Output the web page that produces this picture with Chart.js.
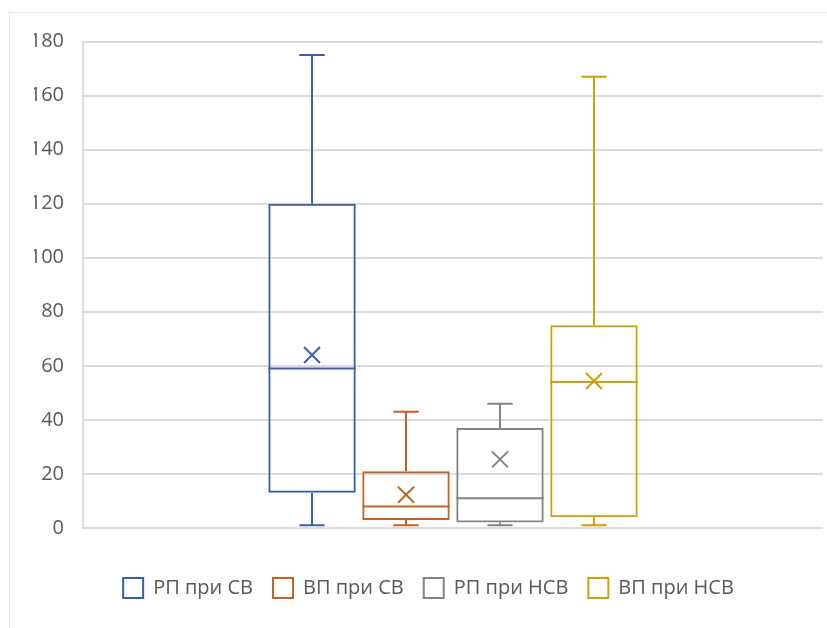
<!DOCTYPE html>
<html>
<head>
<meta charset="utf-8">
<script src="https://cdn.jsdelivr.net/npm/chart.js@4.4.1/dist/chart.umd.min.js"></script>
<style>
  html, body { margin: 0; padding: 0; background: #ffffff; overflow: hidden; }
  #frame { position: absolute; left: 9px; top: 12px; width: 900px; height: 700px; border: 1px solid #e6e6e6; }
  #chart { position: absolute; left: 0; top: 0; }
</style>
</head>
<body>
<div id="frame"></div>
<canvas id="chart" width="827" height="628"></canvas>
<script>
// Five-number summaries and means for each group
const seriesNames = ['РП при СВ', 'ВП при СВ', 'РП при НСВ', 'ВП при НСВ'];
const whiskerMin = [1, 1, 1, 1];
const quartile1  = [13, 3, 2, 4];
const medians    = [59, 8, 11, 54];
const quartile3  = [120, 21, 37, 75];
const whiskerMax = [175, 43, 46, 167];
const means      = [64, 12.3, 25.4, 54.4];
const yTickValues = [0, 20, 40, 60, 80, 100, 120, 140, 160, 180];

const colors = ['#3760a8', '#c5621e', '#838383', '#d0a008'];
const textColor = '#595959';
const gridColor = '#dcdcdc';
const fontFamily = "'Open Sans', 'Noto Sans', sans-serif";

// Whiskers, caps, median lines and mean crosses drawn on top of the boxes
const boxWhiskers = {
  id: 'boxWhiskers',
  afterDatasetsDraw(chart) {
    const ctx = chart.ctx;
    const yScale = chart.scales.y;
    chart.data.datasets.forEach((ds, i) => {
      const meta = chart.getDatasetMeta(i);
      if (meta.hidden || !meta.data[0]) return;
      const { x, width } = meta.data[0].getProps(['x', 'width'], true);
      const half = width / 2;
      const capHalf = width * 0.145;
      const yMin = yScale.getPixelForValue(whiskerMin[i]);
      const yQ1 = yScale.getPixelForValue(quartile1[i]);
      const yMed = yScale.getPixelForValue(medians[i]);
      const yQ3 = yScale.getPixelForValue(quartile3[i]);
      const yMax = yScale.getPixelForValue(whiskerMax[i]);
      const yMean = yScale.getPixelForValue(means[i]);
      ctx.save();
      ctx.strokeStyle = colors[i];
      ctx.lineWidth = 2;
      ctx.lineCap = 'butt';
      ctx.beginPath();
      // upper whisker
      ctx.moveTo(x, yQ3); ctx.lineTo(x, yMax);
      ctx.moveTo(x - capHalf, yMax); ctx.lineTo(x + capHalf, yMax);
      // lower whisker
      ctx.moveTo(x, yQ1); ctx.lineTo(x, yMin);
      ctx.moveTo(x - capHalf, yMin); ctx.lineTo(x + capHalf, yMin);
      // median
      ctx.moveTo(x - half, yMed); ctx.lineTo(x + half, yMed);
      // mean marker
      const m = 8;
      ctx.moveTo(x - m, yMean - m); ctx.lineTo(x + m, yMean + m);
      ctx.moveTo(x - m, yMean + m); ctx.lineTo(x + m, yMean - m);
      ctx.stroke();
      ctx.restore();
    });
  }
};

const datasets = seriesNames.map((name, i) => ({
  label: name,
  data: [[quartile1[i], quartile3[i]]],
  backgroundColor: 'rgba(255,255,255,0)',
  borderColor: colors[i],
  borderWidth: 2,
  borderSkipped: false,
  categoryPercentage: 0.508,
  barPercentage: 0.93
}));

new Chart(document.getElementById('chart'), {
  type: 'bar',
  data: { labels: [''], datasets },
  plugins: [boxWhiskers],
  options: {
    responsive: false,
    animation: false,
    layout: { padding: { top: 41.5, left: 34, right: 4, bottom: 20 } },
    plugins: {
      tooltip: { enabled: false },
      legend: {
        position: 'bottom',
        labels: {
          color: textColor,
          font: { family: fontFamily, size: 20 },
          boxWidth: 20,
          boxHeight: 20,
          padding: 20
        }
      }
    },
    scales: {
      x: {
        display: true,
        ticks: { display: false },
        grid: { display: false, drawTicks: false },
        border: { display: false },
        afterFit(scale) { scale.height = 30; }
      },
      y: {
        min: 0,
        max: 180,
        afterBuildTicks(scale) { scale.ticks = yTickValues.map(v => ({ value: v })); },
        afterFit(scale) { scale.width = 49; },
        ticks: {
          color: textColor,
          font: { family: fontFamily, size: 20 },
          padding: 19
        },
        grid: { color: gridColor, lineWidth: 2, drawTicks: false },
        border: { display: true, color: gridColor, width: 2 }
      }
    }
  }
});
</script>
</body>
</html>
